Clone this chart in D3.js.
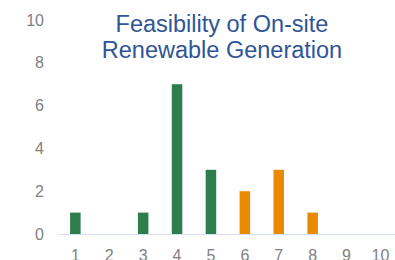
<!DOCTYPE html>
<html>
<head>
<meta charset="utf-8">
<script src="https://cdn.jsdelivr.net/npm/d3@7"></script>
<style>
  html, body { margin: 0; padding: 0; background: #fff; }
  svg { display: block; }
</style>
</head>
<body>
<div id="chart"></div>
<script>
const categories = ['1', '2', '3', '4', '5', '6', '7', '8', '9', '10']
const counts = [1, 0, 1, 7, 3, 2, 3, 1, 0, 0]
const groups = ['a', 'a', 'a', 'a', 'a', 'b', 'b', 'b', 'b', 'b']
const yTicks = [0, 2, 4, 6, 8, 10]
const titleLines = ['Feasibility of On-site', 'Renewable Generation']

const width = 395, height = 260
const colors = { a: '#2e7d4c', b: '#ea8a00' }
const font = '"Liberation Sans", Arial, sans-serif'

const xScale = d3.scaleBand().domain(categories).range([58.4, 397.4])
                 .paddingInner(0.69).paddingOuter(0.345)
const yScale = d3.scaleLinear().domain([0, 10]).range([234, 20])

const svg = d3.select('#chart').append('svg')
              .attr('width', width)
              .attr('height', height)

// y axis labels only
const yAxis = svg.append('g')
                 .attr('transform', 'translate(44, 0)')
                 .call(d3.axisLeft(yScale).tickValues(yTicks).tickSize(0).tickPadding(0))
yAxis.select('.domain').remove()
yAxis.selectAll('text')
     .style('font-family', font)
     .style('font-size', '16px')
     .style('fill', '#808080')

// bars
svg.append('g').selectAll('rect')
   .data(categories)
   .join('rect')
   .attr('x', d => xScale(d))
   .attr('width', xScale.bandwidth())
   .attr('y', (d, i) => yScale(counts[i]))
   .attr('height', (d, i) => yScale(0) - yScale(counts[i]))
   .attr('fill', (d, i) => colors[groups[i]])

// x axis
const xAxis = svg.append('g')
                 .attr('transform', `translate(0, ${yScale(0)})`)
                 .call(d3.axisBottom(xScale).tickSize(0).tickPadding(16))
xAxis.select('.domain')
     .attr('d', `M${xScale.range()[0]},0.5H${width}`)
     .attr('stroke', '#d6e0f3')
     .attr('stroke-width', 1.2)
xAxis.selectAll('text')
     .style('font-family', font)
     .style('font-size', '16px')
     .style('fill', '#808080')

// title
svg.append('text')
   .attr('text-anchor', 'middle')
   .attr('x', 222)
   .attr('y', 31.5)
   .style('font-family', font)
   .style('font-size', '23.5px')
   .style('fill', '#2f5597')
   .selectAll('tspan')
   .data(titleLines)
   .join('tspan')
   .attr('x', 222)
   .attr('dy', (d, i) => i === 0 ? 0 : 26.7)
   .text(d => d)
</script>
</body>
</html>
